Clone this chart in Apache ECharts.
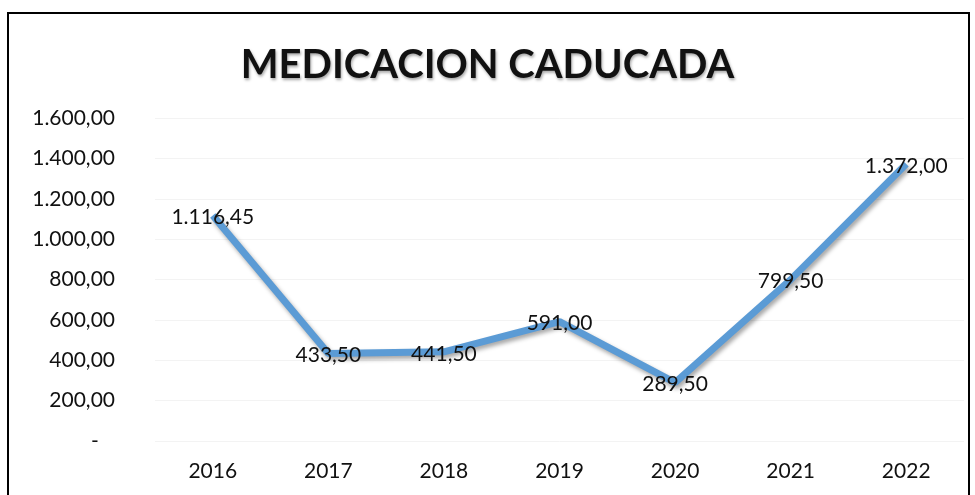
<!DOCTYPE html>
<html>
<head>
<meta charset="utf-8">
<script src="https://cdn.jsdelivr.net/npm/echarts@6/dist/echarts.min.js"></script>
<style>
  html, body { margin: 0; padding: 0; background: #fff; }
  #chart { width: 975px; height: 495px; }
</style>
</head>
<body>
<div id="chart"></div>
<script>
// Expired medication per year
const years = ['2016', '2017', '2018', '2019', '2020', '2021', '2022'];
const caducada = [1116.45, 433.50, 441.50, 591.00, 289.50, 799.50, 1372.00];
const yTicks = [0, 200, 400, 600, 800, 1000, 1200, 1400, 1600];

// Spanish number format: 1.234,56 ; zero shown as "-"
function fmt(v) {
  const parts = v.toFixed(2).split('.');
  const intPart = parts[0].replace(/\B(?=(\d{3})+(?!\d))/g, '.');
  return intPart + ',' + parts[1];
}

const chart = echarts.init(document.getElementById('chart'));
const font = 'Lato, "Open Sans", sans-serif';

chart.setOption({
  animation: false,
  backgroundColor: '#ffffff',
  graphic: [{
    type: 'rect',
    shape: { x: 8, y: 13, width: 961, height: 500 },
    style: { fill: 'none', stroke: '#000', lineWidth: 2 }
  }],
  title: {
    text: 'MEDICACION CADUCADA',
    left: 'center',
    top: 40,
    textStyle: {
      fontFamily: font,
      fontSize: 40,
      fontWeight: 'bold',
      color: '#111',
      textShadowColor: 'rgba(0,0,0,0.35)',
      textShadowBlur: 3,
      textShadowOffsetX: 1,
      textShadowOffsetY: 2
    }
  },
  grid: { left: 155, right: 11, top: 118, bottom: 54 },
  xAxis: {
    type: 'category',
    data: years,
    boundaryGap: true,
    axisLine: { show: false },
    axisTick: { show: false },
    axisLabel: { fontFamily: font, fontSize: 21, color: '#111', margin: 20 }
  },
  yAxis: {
    type: 'value',
    min: yTicks[0],
    max: yTicks[yTicks.length - 1],
    interval: 200,
    axisLine: { show: false },
    axisTick: { show: false },
    splitLine: { show: true, lineStyle: { color: '#f3f3f3', width: 1 } },
    axisLabel: {
      fontFamily: font, fontSize: 21, color: '#111', margin: 40,
      formatter: v => v === 0 ? '-   ' : fmt(v)
    }
  },
  series: [{
    type: 'line',
    data: caducada,
    symbol: 'circle',
    symbolSize: 2,
    showSymbol: true,
    itemStyle: { color: 'rgba(91,155,213,0)' },
    lineStyle: {
      color: '#5B9BD5',
      width: 7,
      shadowColor: 'rgba(0,0,0,0.35)',
      shadowBlur: 4,
      shadowOffsetX: 2,
      shadowOffsetY: 3
    },
    label: {
      show: true,
      position: 'inside',
      offset: [0, 2],
      fontFamily: font,
      fontSize: 21,
      color: '#111',
      formatter: p => fmt(p.value)
    }
  }]
});
</script>
</body>
</html>
